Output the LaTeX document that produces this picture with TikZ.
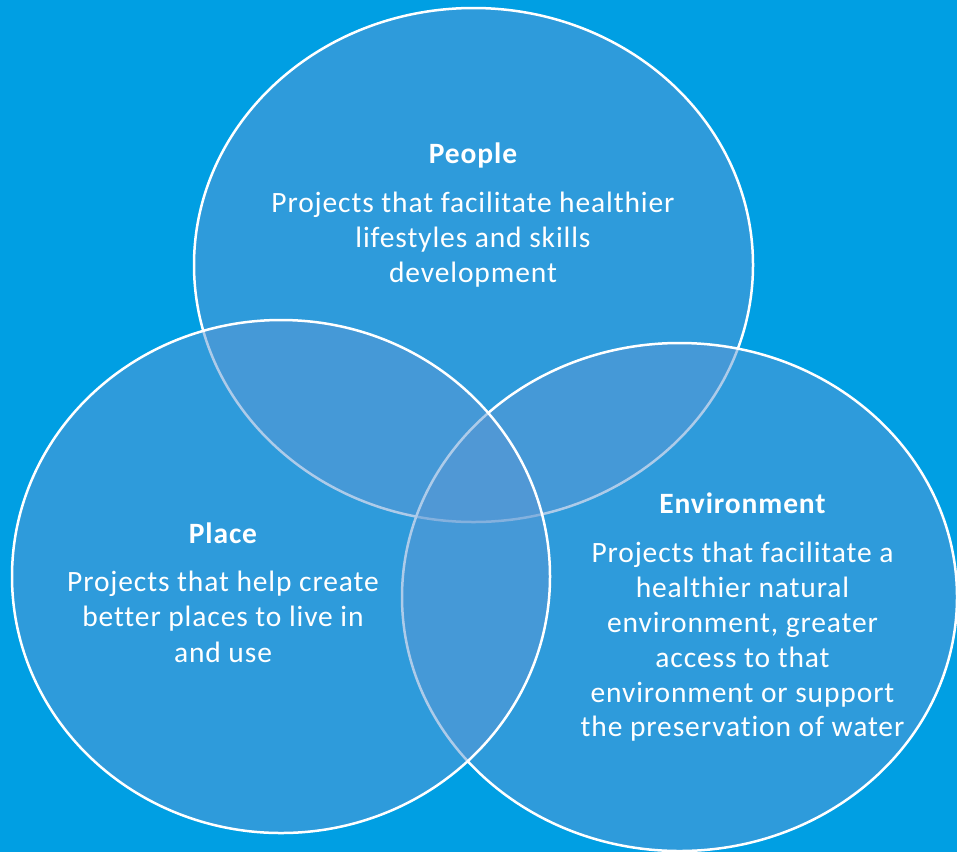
\documentclass[tikz,border=0pt]{standalone}
\usepackage{fontspec}
\setmainfont{Carlito}[LetterSpace=3.0, Ligatures={NoCommon}]
\definecolor{bgblue}{RGB}{0,159,227}
\definecolor{venn}{RGB}{92,152,212}
\tikzset{
  vennset/.style={draw=white, line width=2.5pt, fill=venn, fill opacity=0.5, draw opacity=1},
  ttl/.style={text=white, anchor=base, inner sep=0pt, font=\fontsize{29.5}{35}\selectfont\bfseries},
  txt/.style={text=white, anchor=base, inner sep=0pt, font=\fontsize{29.5}{35}\selectfont},
}
\begin{document}
\begin{tikzpicture}[x=1pt,y=-1pt]
\fill[bgblue] (0,0) rectangle (957,852);
\useasboundingbox (0,0) rectangle (957,852);
% ellipses: People, Environment, Place
\draw[vennset] (473.5,265) ellipse [x radius=279.5, y radius=257];
\draw[vennset] (679.5,597) ellipse [x radius=277.5, y radius=254];
\draw[vennset] (281,576.5) ellipse [x radius=269, y radius=256.5];
% People
\node[ttl] (peopleT) at (473,163) {People};
\node[txt] (people1) at (473,212) {Projects that facilitate healthier};
\node[txt] (people2) at (473,247) {lifestyles and skills};
\node[txt] (people3) at (473,282) {development};
% Place
\node[ttl] (placeT) at (223,543) {Place};
\node[txt] (place1) at (223,591) {Projects that help create};
\node[txt] (place2) at (223,626) {better places to live in};
\node[txt] (place3) at (223,662) {and use};
% Environment
\node[ttl] (envT) at (742.5,513) {Environment};
\node[txt] (env1) at (742.5,562) {Projects that facilitate a};
\node[txt] (env2) at (742.5,597) {healthier natural};
\node[txt] (env3) at (742.5,632) {environment, greater};
\node[txt] (env4) at (742.5,667) {access to that};
\node[txt] (env5) at (742.5,702) {environment or support};
\node[txt] (env6) at (742.5,736) {the preservation of water};
\end{tikzpicture}
\end{document}
